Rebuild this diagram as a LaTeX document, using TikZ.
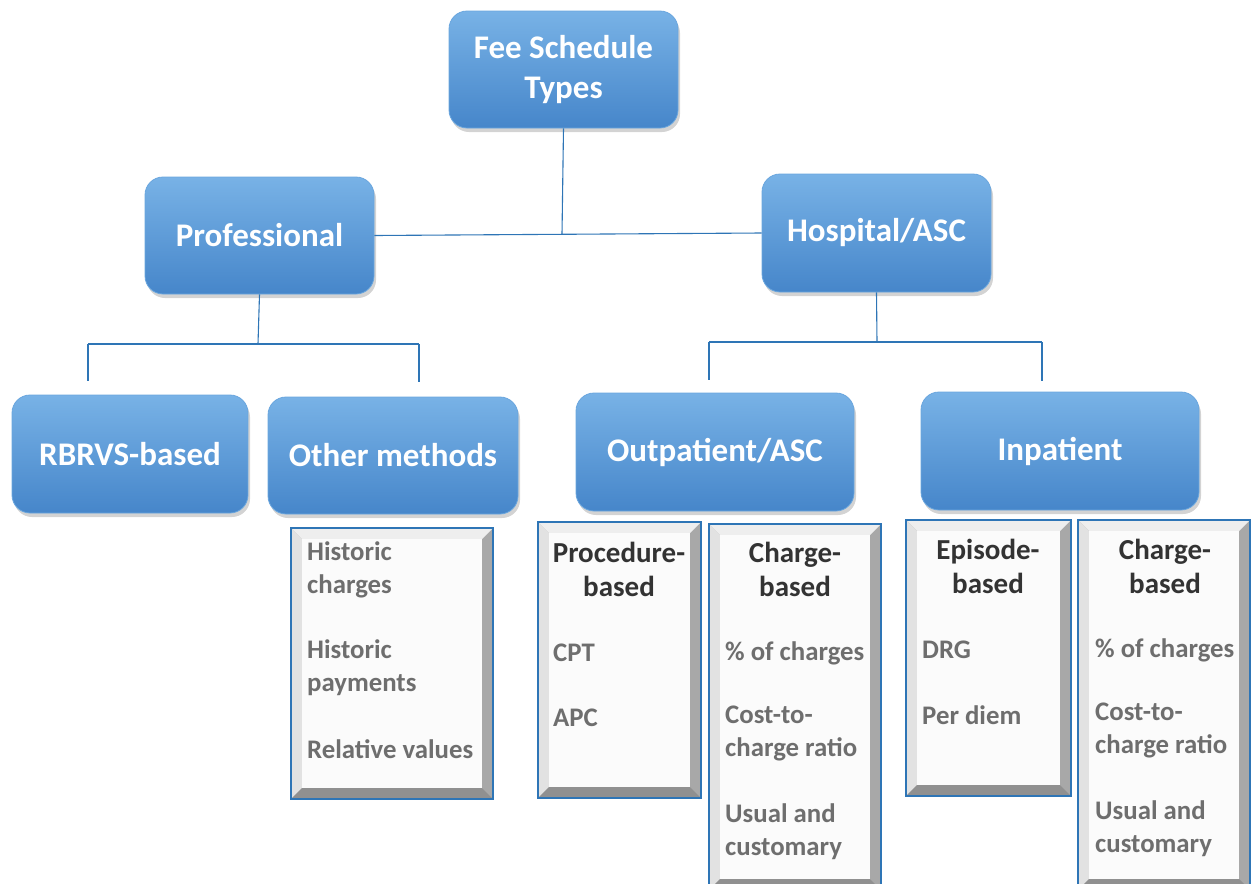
\documentclass[tikz,border=0pt]{standalone}
\usepackage{fontspec}
\setmainfont{Carlito}
\usetikzlibrary{shadows}
\definecolor{bxtop}{HTML}{78B2E6}
\definecolor{bxbot}{HTML}{4686CA}
\definecolor{bxdraw}{HTML}{6AA6DE}
\definecolor{conn}{HTML}{2E75B6}
\definecolor{bvborder}{HTML}{2E75B6}
\definecolor{bvtopc}{HTML}{EEEEEE}
\definecolor{bvleftc}{HTML}{E2E2E2}
\definecolor{bvrightc}{HTML}{A8A8A8}
\definecolor{bvbotc}{HTML}{909090}
\definecolor{bvin}{HTML}{FBFBFB}
\definecolor{itemgray}{HTML}{6E6E6E}
\definecolor{headdark}{HTML}{333333}
\tikzset{
  bluebox/.style={rounded corners=18pt, top color=bxtop, bottom color=bxbot,
    draw=bxdraw, line width=0.8pt, text=white, align=center,
    font=\bfseries\fontsize{33}{40}\selectfont,
    drop shadow={opacity=0.35, shadow xshift=2pt, shadow yshift=-4pt}},
  conline/.style={draw=conn, line width=1.1pt},
  item/.style={anchor=west, text=itemgray, align=left, inner sep=0pt,
    font=\bfseries\fontsize{26.8}{33}\selectfont},
  head/.style={anchor=center, text=headdark, align=center, inner sep=0pt,
    font=\bfseries\fontsize{29}{34}\selectfont},
}
\newcommand\bevbox[4]{%
  \fill[bvrightc] (#1,#2) rectangle (#3,#4);
  \fill[bvtopc] (#1,#2) -- (#3,#2) -- (#3-11,#2+11) -- (#1+11,#2+11) -- cycle;
  \fill[bvleftc] (#1,#2) -- (#1+11,#2+11) -- (#1+11,#4-11) -- (#1,#4) -- cycle;
  \fill[bvbotc] (#1,#4) -- (#1+11,#4-11) -- (#3-11,#4-11) -- (#3,#4) -- cycle;
  \fill[bvin] (#1+11,#2+11) rectangle (#3-11,#4-11);
  \draw[bvborder, line width=1.2pt] (#1,#2) rectangle (#3,#4);
}
\begin{document}
\begin{tikzpicture}[x=1pt,y=-1pt]
\useasboundingbox (0,0) rectangle (1251,884);

% blue boxes
\node[bluebox, minimum width=229pt, minimum height=117pt] (top) at (563.5,69.5) {Fee Schedule\\Types};
\node[bluebox, minimum width=229pt, minimum height=117pt] (pro) at (259.5,235.5) {Professional};
\node[bluebox, minimum width=229pt, minimum height=118pt] (hos) at (876.5,233) {Hospital/ASC};
\node[bluebox, minimum width=236pt, minimum height=118pt] (rbr) at (130,454) {RBRVS-based};
\node[bluebox, minimum width=250pt, minimum height=117pt] (oth) at (393,455.5) {Other methods};
\node[bluebox, minimum width=278pt, minimum height=118pt] (out) at (715,452) {Outpatient/ASC};
\node[bluebox, minimum width=278pt, minimum height=118pt] (inp) at (1060,451) {Inpatient};

% connectors
\coordinate (j1) at (562,234);
\draw[conline] (top.south) -- (j1);
\draw[conline] (pro.east) -- (hos.west);
\coordinate (pj) at (258,344);
\coordinate (pl) at (88,344);
\coordinate (pr) at (419,344);
\coordinate (pld) at (88,381);
\coordinate (prd) at (419,382);
\draw[conline] (pro.south) -- (pj);
\draw[conline] (pl) -- (pr);
\draw[conline] (pl) -- (pld);
\draw[conline] (pr) -- (prd);
\coordinate (hj) at (877,342);
\coordinate (hl) at (709,342);
\coordinate (hr) at (1042,342);
\coordinate (hld) at (709,380);
\coordinate (hrd) at (1042,381);
\draw[conline] (hos.south) -- (hj);
\draw[conline] (hl) -- (hr);
\draw[conline] (hl) -- (hld);
\draw[conline] (hr) -- (hrd);

% list boxes
\bevbox{291}{528}{493}{799}
\bevbox{538}{522}{701}{798}
\bevbox{709}{524}{881}{890}
\bevbox{906}{520}{1071}{796}
\bevbox{1078}{520}{1250}{890}

% Other methods items
\node[item] (o1) at (307,570) {Historic\\charges};
\node[item] (o2) at (307,668) {Historic\\payments};
\node[item] (o3) at (307,749) {Relative values};

% Procedure-based
\node[head] (ph) at (619,569) {Procedure-\\based};
\node[item] (p1) at (553,653) {CPT};
\node[item] (p2) at (553,718) {APC};

% Charge-based (outpatient)
\node[head] (ch1) at (795,569) {Charge-\\based};
\node[item] (c1) at (725,653) {\% of charges};
\node[item] (c2) at (725,733) {Cost-to-\\charge ratio};
\node[item] (c3) at (725,832) {Usual and\\customary};

% Episode-based
\node[head] (eh) at (988,566) {Episode-\\based};
\node[item] (e1) at (922,650) {DRG};
\node[item] (e2) at (922,715) {Per diem};

% Charge-based (inpatient)
\node[head] (ch2) at (1165,566) {Charge-\\based};
\node[item] (d1) at (1095,650) {\% of charges};
\node[item] (d2) at (1095,730) {Cost-to-\\charge ratio};
\node[item] (d3) at (1095,829) {Usual and\\customary};
\end{tikzpicture}
\end{document}
